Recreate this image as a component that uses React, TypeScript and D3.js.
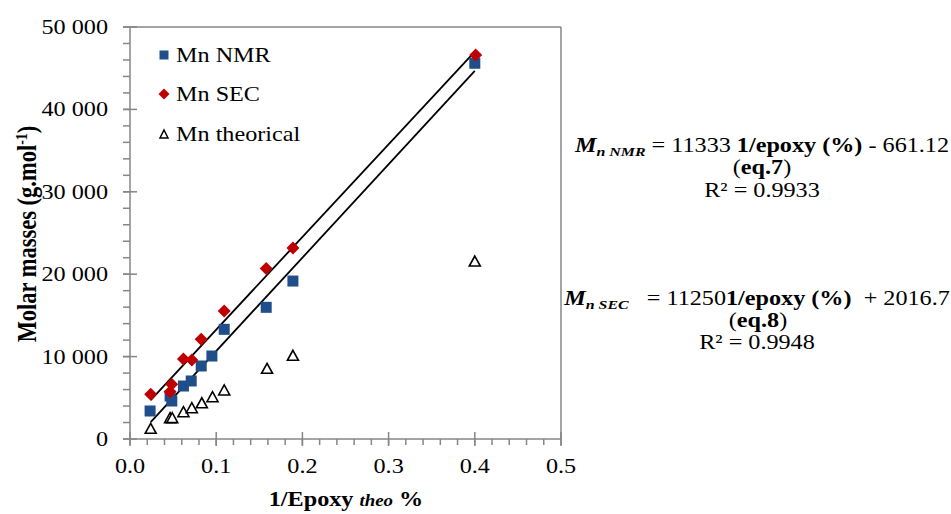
import React from "react";
import * as d3 from "d3";

const xNMR = [0.0233, 0.0465, 0.0485, 0.062, 0.071, 0.0826, 0.095, 0.1093, 0.158, 0.189, 0.4];
const yNMR = [3400, 5220, 4610, 6430, 7040, 8860, 10070, 13310, 15980, 19170, 45600];
const xSEC = [0.024, 0.0465, 0.0484, 0.062, 0.0717, 0.0826, 0.1093, 0.158, 0.189, 0.401];
const ySEC = [5425, 5740, 6640, 9710, 9590, 12100, 15530, 20700, 23180, 46600];
const xTheo = [0.024, 0.0465, 0.049, 0.062, 0.0717, 0.0833, 0.0957, 0.1093, 0.159, 0.189, 0.4];
const yTheo = [1300, 2590, 2590, 3310, 3800, 4400, 5130, 5950, 8580, 10160, 21600];

const fitNMR = { slope: 113330, intercept: -661.12, x0: 0.024, x1: 0.4 };
const fitSEC = { slope: 112501, intercept: 2016.7, x0: 0.024, x1: 0.4 };

const xTicks = [0, 0.1, 0.2, 0.3, 0.4, 0.5];
const yTicks = [0, 10000, 20000, 30000, 40000, 50000];
const legendLabels = ["Mn NMR", "Mn SEC", "Mn theorical"];

const W = 951, H = 514;
const SX = 1.18;
const FONT = "Liberation Serif";
const AXIS = "#868686";
const BLUE = "#1F4E8A";
const RED = "#C00000";

const x = d3.scaleLinear().domain([0, 0.5]).range([130, 561]);
const y = d3.scaleLinear().domain([0, 50000]).range([439, 27]);

function T({ x: tx, y: ty, anchor = "start", size = 20.5, children, weight = "normal", style = "normal" }: any) {
  return (
    <g transform={`translate(${tx},${ty}) scale(${SX},1)`}>
      <text textAnchor={anchor} style={{ fontFamily: FONT, fontSize: size, fontWeight: weight, fontStyle: style }} fill="#000">
        {children}
      </text>
    </g>
  );
}

const fmt = (v: number) => {
  if (v === 0) return "0";
  const s = String(v);
  return s.slice(0, s.length - 3) + " " + s.slice(-3);
};

function Square({ cx, cy, s = 11 }: any) {
  return <rect x={cx - s / 2} y={cy - s / 2} width={s} height={s} fill={BLUE} />;
}
function Diamond({ cx, cy, r = 6.5 }: any) {
  return <path d={`M${cx},${cy - r}L${cx + r},${cy}L${cx},${cy + r}L${cx - r},${cy}Z`} fill={RED} />;
}
function Tri({ cx, cy, w = 11, h = 10, sw = 1.6 }: any) {
  return (
    <path
      d={`M${cx},${cy - h / 2}L${cx + w / 2},${cy + h / 2}L${cx - w / 2},${cy + h / 2}Z`}
      fill="#fff"
      stroke="#000"
      strokeWidth={sw}
      strokeLinejoin="miter"
    />
  );
}

export default function App() {
  const minorY = d3.range(0, 50001, 2000);
  const minorX = d3.range(0, 0.5001, 0.02);
  const fitLine = (f: any) => {
    const line = d3.line<number>().x((v) => x(v)).y((v) => y(f.slope * v + f.intercept));
    return line([f.x0, f.x1]) || "";
  };
  return (
    <svg width={W} height={H} style={{ position: "absolute", left: 0, top: 0, background: "#fff", fontFamily: FONT }}>
      <rect x={0} y={0} width={W} height={H} fill="#fff" />
      {/* plot frame */}
      <line x1={x(0)} x2={x(0.5)} y1={y(50000)} y2={y(50000)} stroke={AXIS} strokeWidth={1.5} />
      <line x1={x(0.5)} x2={x(0.5)} y1={y(50000)} y2={y(0)} stroke={AXIS} strokeWidth={1.5} />
      {/* y axis */}
      <line x1={x(0)} x2={x(0)} y1={y(0)} y2={y(50000)} stroke={AXIS} strokeWidth={1.5} />
      {minorY.map((v) => (
        <line key={"my" + v} x1={x(0) - 7} x2={x(0)} y1={y(v)} y2={y(v)} stroke={AXIS} strokeWidth={1.5} />
      ))}
      {yTicks.map((v) => (
        <line key={"My" + v} x1={x(0) - 7} x2={x(0) + 7} y1={y(v)} y2={y(v)} stroke={AXIS} strokeWidth={1.5} />
      ))}
      {yTicks.map((v) => (
        <T key={"ly" + v} x={108} y={y(v) + 7} anchor="end">{fmt(v)}</T>
      ))}
      {/* x axis */}
      <line x1={x(0)} x2={x(0.5)} y1={y(0)} y2={y(0)} stroke={AXIS} strokeWidth={1.5} />
      {minorX.map((v) => (
        <line key={"mx" + v} x1={x(v)} x2={x(v)} y1={y(0)} y2={y(0) + 6} stroke={AXIS} strokeWidth={1.5} />
      ))}
      {xTicks.map((v) => (
        <line key={"Mx" + v} x1={x(v)} x2={x(v)} y1={y(0) - 7} y2={y(0) + 7} stroke={AXIS} strokeWidth={1.5} />
      ))}
      {xTicks.map((v) => (
        <T key={"lx" + v} x={x(v)} y={473} anchor="middle">{v.toFixed(1)}</T>
      ))}
      {/* axis titles */}
      <T x={346} y={506} anchor="middle" weight="bold">
        1/Epoxy <tspan fontStyle="italic" fontSize={16}>theo</tspan> %
      </T>
      <g transform={`translate(36,234) rotate(-90) scale(1,${SX})`}>
        <text textAnchor="middle" style={{ fontFamily: FONT, fontSize: 22.5, fontWeight: "bold" }}>
          Molar masses (g.mol<tspan fontSize={14} dy={-8}>-1</tspan><tspan dy={8}>)</tspan>
        </text>
      </g>
      {/* fit lines */}
      <path d={fitLine(fitSEC)} stroke="#000" strokeWidth={1.8} fill="none" />
      <path d={fitLine(fitNMR)} stroke="#000" strokeWidth={1.8} fill="none" />
      {/* points */}
      {xTheo.map((v, i) => (
        <Tri key={"t" + i} cx={x(v)} cy={y(yTheo[i])} />
      ))}
      {xNMR.map((v, i) => (
        <Square key={"n" + i} cx={x(v)} cy={y(yNMR[i])} />
      ))}
      {xSEC.map((v, i) => (
        <Diamond key={"s" + i} cx={x(v)} cy={y(ySEC[i])} />
      ))}
      {/* legend */}
      <Square cx={164} cy={55} s={9} />
      <T x={176} y={62}>{legendLabels[0]}</T>
      <Diamond cx={164} cy={94} r={5.5} />
      <T x={176} y={101}>{legendLabels[1]}</T>
      <Tri cx={164} cy={134} w={8} h={8} sw={1.5} />
      <T x={176} y={141}>{legendLabels[2]}</T>
      {/* equations */}
      <T x={762} y={152} anchor="middle">
        <tspan fontWeight="bold" fontStyle="italic">M</tspan>
        <tspan fontWeight="bold" fontStyle="italic" fontSize={13.5} dy={4}>n NMR</tspan>
        <tspan dy={-4}> = 11333 </tspan>
        <tspan fontWeight="bold">1/epoxy (%)</tspan>
        <tspan> - 661.12</tspan>
      </T>
      <T x={762} y={174} anchor="middle">
        (<tspan fontWeight="bold">eq.7</tspan>)
      </T>
      <T x={762} y={197} anchor="middle">R² = 0.9933</T>
      <T x={757} y={305} anchor="middle">
        <tspan fontWeight="bold" fontStyle="italic">M</tspan>
        <tspan fontWeight="bold" fontStyle="italic" fontSize={13.5} dy={4}>n SEC</tspan>
        <tspan dy={-4} style={{ whiteSpace: "pre" }}>{"   = 11250"}</tspan>
        <tspan fontWeight="bold">1/epoxy (%)</tspan>
        <tspan style={{ whiteSpace: "pre" }}>{"  + 2016.7"}</tspan>
      </T>
      <T x={758} y={327} anchor="middle">
        (<tspan fontWeight="bold">eq.8</tspan>)
      </T>
      <T x={757} y={349} anchor="middle">R² = 0.9948</T>
    </svg>
  );
}
